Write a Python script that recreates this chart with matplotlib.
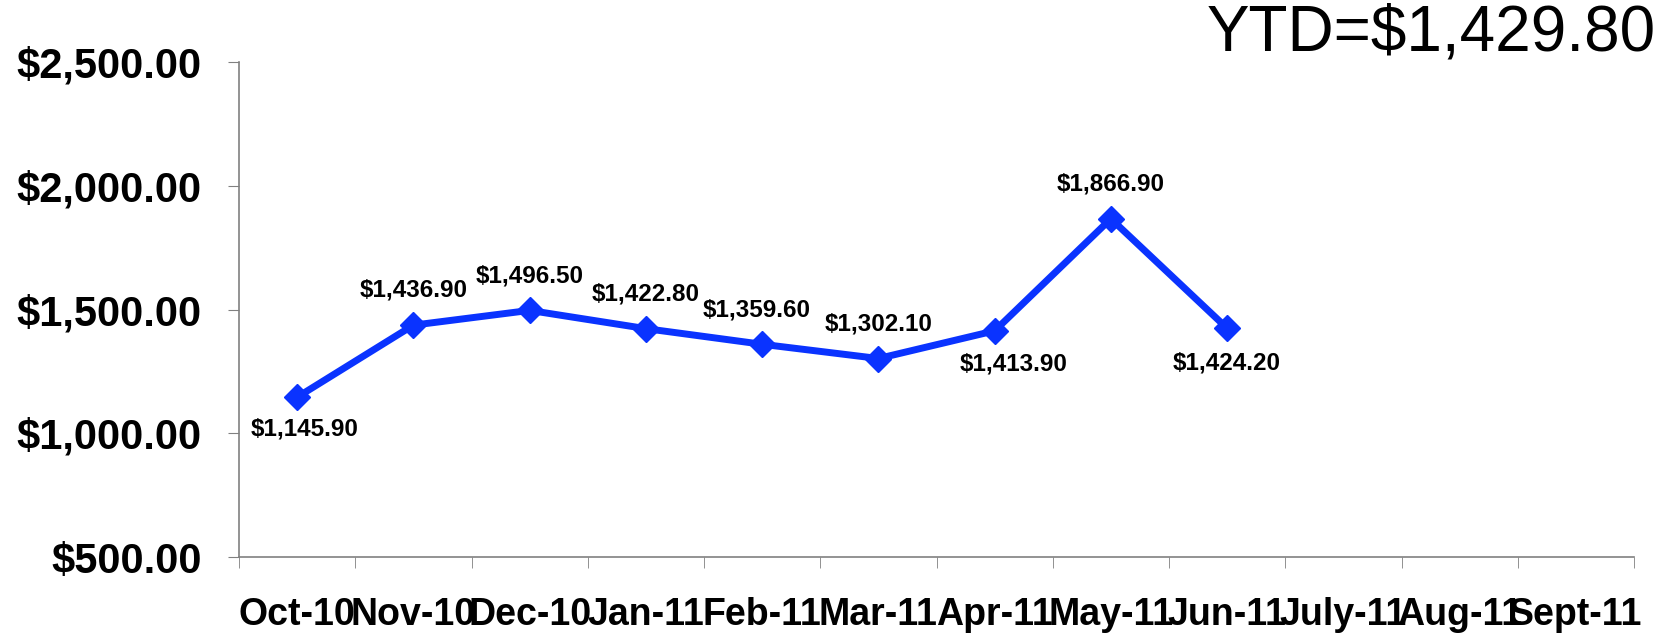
import matplotlib.pyplot as plt

months = ["Oct-10", "Nov-10", "Dec-10", "Jan-11", "Feb-11", "Mar-11",
          "Apr-11", "May-11", "Jun-11", "July-11", "Aug-11", "Sept-11"]
values = [1145.90, 1436.90, 1496.50, 1422.80, 1359.60, 1302.10,
          1413.90, 1866.90, 1424.20]
ytd = 1429.80
yticks = [500, 1000, 1500, 2000, 2500]

# label offsets (points) for each data label
offsets = [(5, -23), (0, 25), (0, 25), (0, 25), (-4, 25), (0, 25),
           (14, -24), (0, 25), (0, -25)]

plt.rcParams['font.family'] = ['Liberation Sans', 'DejaVu Sans']

fig = plt.figure(figsize=(16.67, 6.35), dpi=100)
ax = fig.add_axes([0.1434, 0.1228, 0.8368, 0.7795])

xs = list(range(len(values)))
ax.plot(xs, values, color="#0A33FF", lw=5, marker="D", markersize=13,
        solid_joinstyle="miter")

for x, v, off in zip(xs, values, offsets):
    ax.annotate(f"${v:,.2f}", (x, v), xytext=off, textcoords="offset points",
                ha="center", va="center", fontsize=17.5, fontweight="bold")

ax.set_xlim(-0.5, len(months) - 0.5)
ax.set_ylim(500, 2500)
ax.set_yticks(yticks)
ax.set_yticklabels([f"${t:,.2f}" for t in yticks], fontsize=30, fontweight="bold")

ax.set_xticks(range(len(months)))
ax.set_xticklabels(months, fontsize=27, fontweight="bold")
ax.set_xticks([i - 0.5 for i in range(len(months) + 1)], minor=True)
ax.tick_params(axis="x", which="major", length=0, pad=29)
ax.tick_params(axis="x", which="minor", length=8, color="#808080", direction="out")
ax.tick_params(axis="y", length=8, color="#808080", pad=19)

for s in ["top", "right"]:
    ax.spines[s].set_visible(False)
for s in ["left", "bottom"]:
    ax.spines[s].set_color("#808080")
    ax.spines[s].set_linewidth(1.2)

fig.text(0.9934, 0.92, f"YTD=${ytd:,.2f}", ha="right", va="baseline", fontsize=46)

fig.savefig("out.png", dpi=100)
